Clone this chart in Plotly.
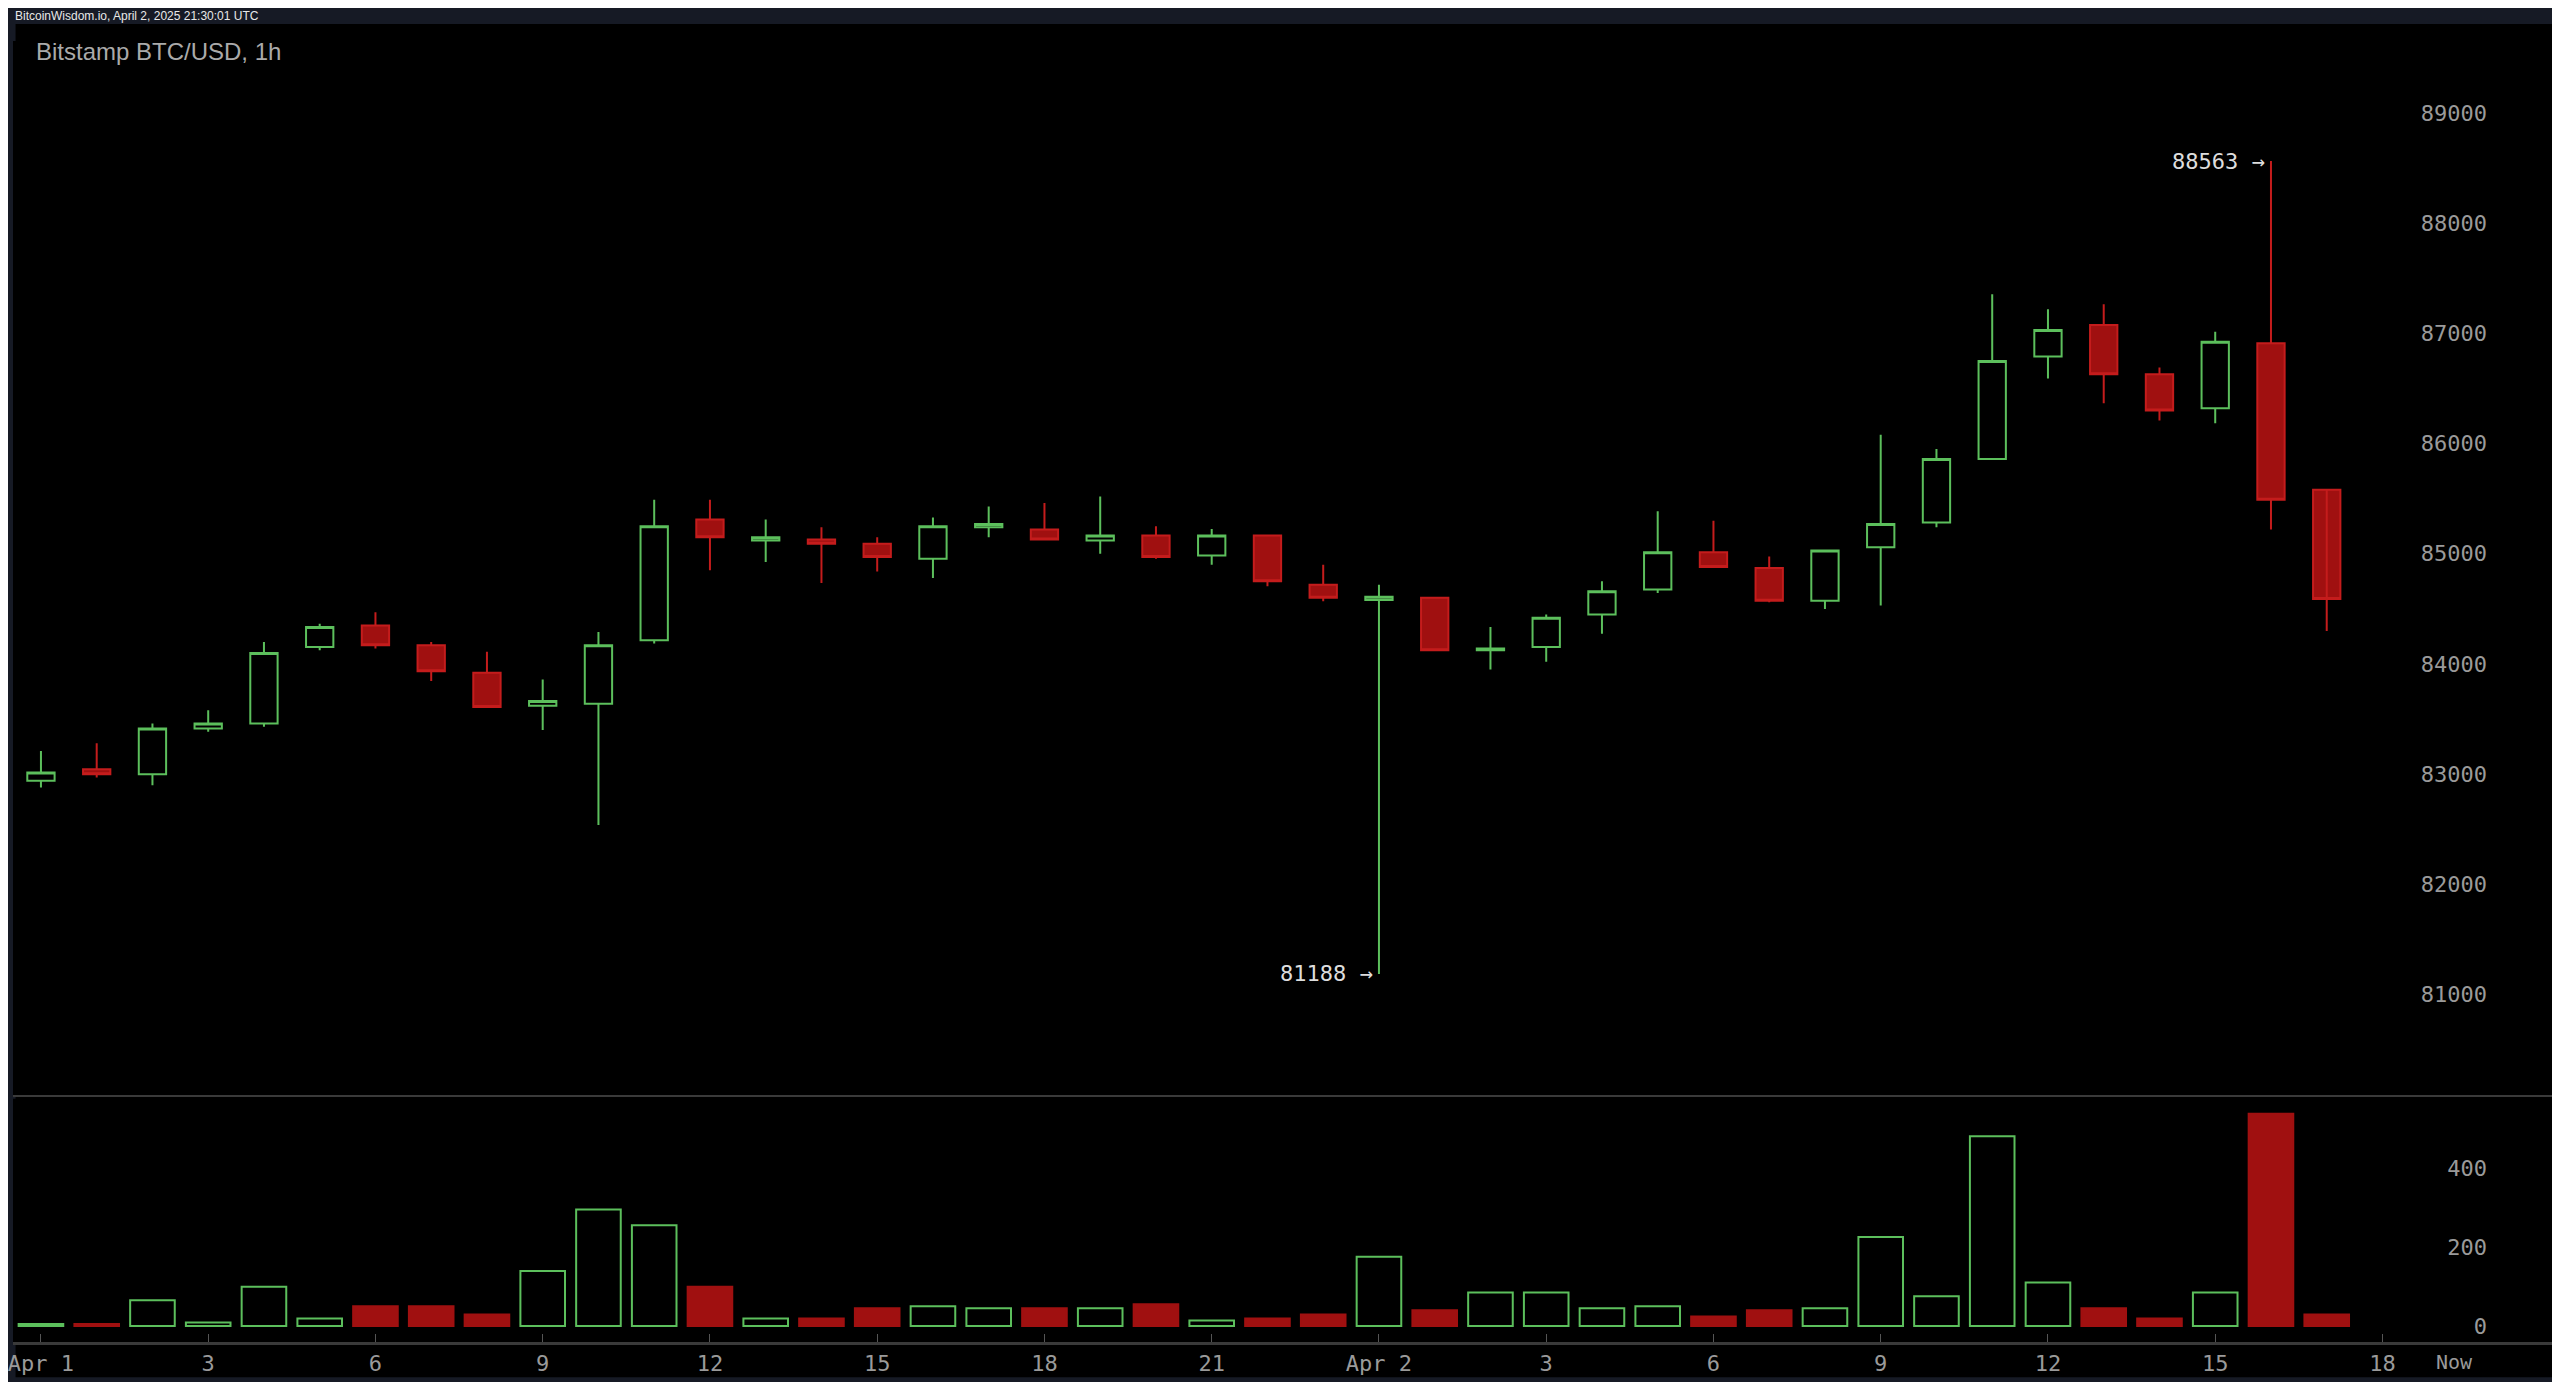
import plotly.graph_objects as go
from plotly.subplots import make_subplots

# hourly candles, Apr 1 00:00 .. Apr 2 17:00 (UTC)
hours = list(range(42))
opens = [82940, 83045, 83000, 83415, 83460, 84155, 84350, 84170, 83920, 83620,
         83640, 84215, 85310, 85120, 85130, 85090, 84955, 85240, 85220, 85120,
         85165, 84985, 85165, 84720, 84580, 84600, 84125, 84155, 84450, 84675,
         85015, 84870, 84575, 85060, 85285, 85860, 86790, 87075, 86630, 86320,
         86910, 85580]
closes = [83015, 83000, 83415, 83460, 84100, 84335, 84170, 83935, 83610, 83665,
          84170, 85250, 85150, 85150, 85090, 84970, 85250, 85270, 85130, 85165,
          84970, 85165, 84750, 84600, 84610, 84125, 84140, 84420, 84660, 85015,
          84880, 84575, 85030, 85270, 85860, 86750, 87030, 86630, 86300, 86925,
          85490, 84590]
highs = [83210, 83280, 83460, 83580, 84200, 84365, 84470, 84200, 84110, 83860,
         84290, 85490, 85490, 85310, 85240, 85150, 85330, 85430, 85460, 85520,
         85250, 85225, 85165, 84900, 84720, 84600, 84335, 84450, 84750, 85385,
         85300, 84975, 85030, 86080, 85950, 87355, 87220, 87265, 86690, 87015,
         88563, 84590]
lows = [82880, 82970, 82900, 83385, 83430, 84125, 84140, 83845, 83610, 83400,
        82540, 84185, 84850, 84925, 84735, 84840, 84780, 85150, 85120, 85000,
        84955, 84900, 84705, 84570, 81188, 84125, 83950, 84020, 84275, 84645,
        84870, 84560, 84500, 84530, 85240, 85860, 86590, 86365, 86210, 86185,
        85220, 84300]
volumes = [5, 5, 65, 9, 99, 19, 50, 50, 29, 139, 295, 255, 99, 19, 19, 45, 50, 45,
           45, 45, 55, 14, 19, 29, 175, 40, 85, 85, 45, 50, 24, 40, 45, 225, 75,
           480, 110, 45, 19, 85, 537, 29]

tick_vals = [0, 3, 6, 9, 12, 15, 18, 21, 24, 27, 30, 33, 36, 39, 42]
tick_text = ["Apr 1", "3", "6", "9", "12", "15", "18", "21",
             "Apr 2", "3", "6", "9", "12", "15", "18"]
now_x = 43.3

GREEN = "#5cbf5c"
RED = "#c41c1c"
RED_FILL = "#a01010"
GREY = "#9a9a9a"
MONO = "DejaVu Sans Mono"

up = [c >= o for o, c in zip(opens, closes)]

fig = make_subplots(rows=2, cols=1, shared_xaxes=True, vertical_spacing=0.002,
                    row_heights=[0.811, 0.187])

fig.add_trace(go.Candlestick(
    x=hours, open=opens, high=highs, low=lows, close=closes,
    increasing=dict(line=dict(color=GREEN, width=2), fillcolor="black"),
    decreasing=dict(line=dict(color=RED, width=2), fillcolor=RED_FILL),
    whiskerwidth=0, showlegend=False), row=1, col=1)

fig.add_trace(go.Bar(
    x=hours, y=volumes, width=0.8,
    marker=dict(color=["black" if u else RED_FILL for u in up],
                line=dict(color=[GREEN if u else RED_FILL for u in up], width=2)),
    showlegend=False), row=2, col=1)

# high / low markers
i_hi = highs.index(max(highs))
i_lo = lows.index(min(lows))
for i, v in [(i_hi, highs[i_hi]), (i_lo, lows[i_lo])]:
    fig.add_annotation(x=i, y=v, xref="x", yref="y", text=f"{v} →", showarrow=False,
                       xanchor="right", yanchor="middle", xshift=-4,
                       font=dict(family=MONO, size=22, color="#dddddd"))

fig.add_annotation(x=now_x, y=0, xref="x2", yref="paper", text="Now", showarrow=False,
                   yanchor="top", yshift=-6,
                   font=dict(family=MONO, size=20, color=GREY))

x0 = -28 / 55.86
x1 = x0 + 2552 / 55.86
fig.update_xaxes(range=[x0, x1], showgrid=False, zeroline=False,
                 rangeslider=dict(visible=False), showline=False)
fig.update_xaxes(row=2, col=1, tickvals=tick_vals, ticktext=tick_text,
                 ticks="inside", ticklen=8, tickcolor="#555555",
                 ticklabeloverflow="allow",
                 showline=True, linecolor="#3a3a3a", linewidth=3,
                 tickfont=dict(family=MONO, size=22, color=GREY))

fig.update_yaxes(row=1, col=1, range=[80079, 89653], side="right",
                 tickvals=list(range(81000, 90000, 1000)), tickformat="d",
                 ticklabelposition="inside", ticklabelstandoff=70,
                 showgrid=False, zeroline=False, ticks="",
                 tickfont=dict(family=MONO, size=22, color=GREY))
fig.update_yaxes(row=2, col=1, range=[-40.5, 575], side="right",
                 tickvals=[0, 200, 400],
                 ticklabelposition="inside", ticklabelstandoff=70,
                 showgrid=False, zeroline=False, ticks="",
                 tickfont=dict(family=MONO, size=22, color=GREY))

# black chart panel, header strip and panel separator
fig.add_shape(type="rect", xref="paper", yref="paper", x0=0.001, x1=0.999,
              y0=-0.027, y1=1.013, fillcolor="black", line_width=0, layer="below")
fig.add_shape(type="line", xref="paper", yref="paper", x0=0, x1=1,
              y0=0.189, y1=0.189, line=dict(color="#3a3a3a", width=2))

fig.add_annotation(x=0.0, y=1.0192, xref="paper", yref="paper", showarrow=False,
                   text="BitcoinWisdom.io, April 2, 2025 21:30:01 UTC",
                   xanchor="left", yanchor="middle",
                   font=dict(family="Liberation Sans", size=12, color="#e8e8e8"))
fig.add_annotation(x=0.0082, y=0.992, xref="paper", yref="paper", showarrow=False,
                   text="Bitstamp BTC/USD, 1h", xanchor="left", yanchor="middle",
                   font=dict(family="Liberation Sans", size=24, color="#aaaaaa"))

fig.update_layout(width=2552, height=1374, margin=dict(l=0, r=0, t=33, b=40),
                  paper_bgcolor="#161a25", plot_bgcolor="black", bargap=0.2)

fig.write_html("out.html")
